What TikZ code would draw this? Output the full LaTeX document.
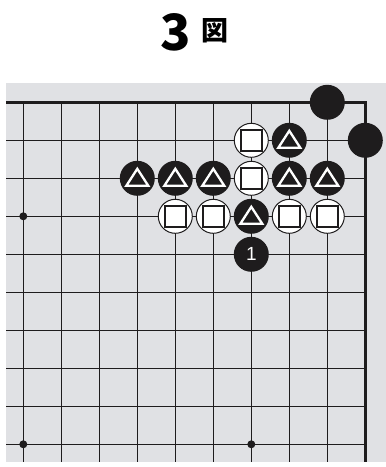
\documentclass[tikz,border=0pt]{standalone}
\usepackage{fontspec}
\setmainfont{Liberation Sans}
\newfontfamily\cjkfont{Noto Sans CJK JP}
\definecolor{boardgray}{RGB}{224,225,228}
\definecolor{inkblack}{RGB}{30,28,29}
\tikzset{
  gridline/.style={draw=inkblack, line width=1.6pt},
  edgeline/.style={draw=inkblack, line width=3.4pt, line join=miter},
  hoshi/.style={circle, fill=inkblack, minimum size=8pt, inner sep=0pt},
  blackstone/.style={circle, fill=inkblack, minimum size=35pt, inner sep=0pt},
  whitestone/.style={circle, draw=inkblack, fill=white, line width=1pt,
                     minimum size=34pt, inner sep=0pt},
  trimark/.style={blackstone, path picture={
      \draw[white, line width=2.3pt]
        ([shift={(0pt,9.5pt)}]path picture bounding box.center)
        -- ([shift={(-11pt,-7.5pt)}]path picture bounding box.center)
        -- ([shift={(11pt,-7.5pt)}]path picture bounding box.center) -- cycle;}},
  sqmark/.style={whitestone, path picture={
      \draw[inkblack, line width=1.9pt]
        ([shift={(-10.3pt,-10.3pt)}]path picture bounding box.center)
        rectangle ++(20.6pt,20.6pt);}},
  movenum/.style={blackstone, text=white, font=\fontsize{19}{19}\selectfont}
}

\begin{document}
\begin{tikzpicture}[x=1pt, y=-1pt]
  \useasboundingbox (0,0) rectangle (386,467);

  % title
  \node[font=\cjkfont\bfseries\fontsize{50}{50}\selectfont, inner sep=0pt,
        anchor=base] (titlenum) at (175.5,50.5) {3};
  \node[font=\cjkfont\bfseries\fontsize{27}{27}\selectfont, inner sep=0pt]
       (titlefig) at (215,30.5) {図};

  % board
  \fill[boardgray] (6,83) rectangle (386,462);

  \begin{scope}[shift={(23.3,102.3)}, x=38pt, y=-38pt]
    % grid
    \foreach \c in {0,...,8}
      \draw[gridline] (\c,0) -- (\c,9.47);
    \foreach \r in {1,...,9}
      \draw[gridline] (-0.455,\r) -- (9,\r);
    \draw[edgeline] (-0.455,0) -- (9,0) -- (9,9.47);

    % star points
    \foreach \c/\r [count=\i] in {0/3,0/9,6/9}
      \node[hoshi] (star\i) at (\c,\r) {};

    % stones
    \node[blackstone] (cornerA) at (8,0) {};
    \node[blackstone] (cornerB) at (9,1) {};
    \foreach \c/\r [count=\i] in {7/1,3/2,4/2,5/2,7/2,8/2,6/3}
      \node[trimark] (tri\i) at (\c,\r) {};
    \foreach \c/\r [count=\i] in {6/1,6/2,4/3,5/3,7/3,8/3}
      \node[sqmark] (sq\i) at (\c,\r) {};
    \node[movenum] (move1) at (6,4) {1};
  \end{scope}
\end{tikzpicture}
\end{document}
